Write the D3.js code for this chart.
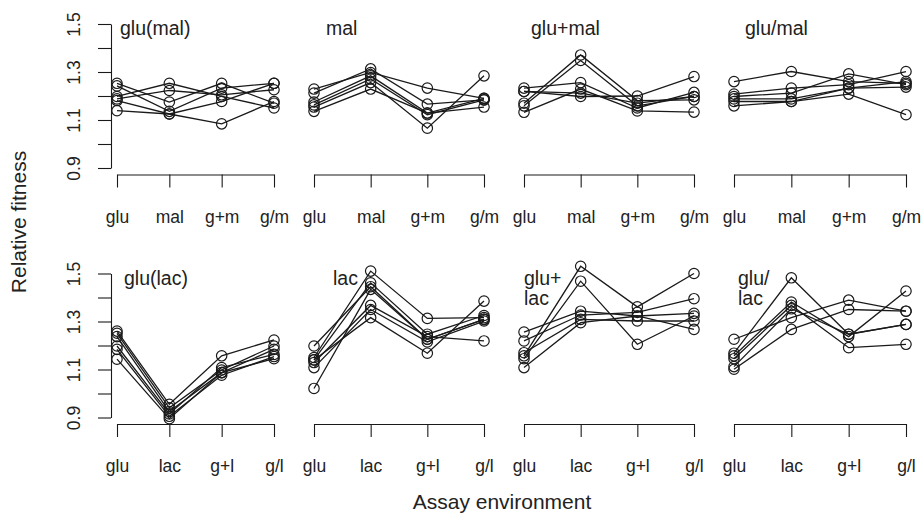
<!DOCTYPE html>
<html>
<head>
<meta charset="utf-8">
<script src="https://cdn.jsdelivr.net/npm/d3@7.9.0/dist/d3.min.js"></script>
<style>
  body { margin: 0; background: #fff; }
  svg text { font-family: "Liberation Sans", Arial, Helvetica, sans-serif; fill: #222; }
</style>
</head>
<body>
<svg id="chart" width="922" height="514"></svg>
<script>
// assay environments
const malEnvs = ['glu', 'mal', 'g+m', 'g/m'];
const lacEnvs = ['glu', 'lac', 'g+l', 'g/l'];
const yTicks = [0.9, 1.0, 1.1, 1.2, 1.3, 1.4, 1.5];
const yLabelled = [0.9, 1.1, 1.3, 1.5];

// panel titles (second line for the two-line ones)
const titles = [['glu(mal)'], ['mal'], ['glu+mal'], ['glu/mal'],
                ['glu(lac)'], ['lac'], ['glu+', 'lac'], ['glu/', 'lac']];

// relative fitness of each replicate line, one row per line, in env order
const gluMalLines = [
  [1.253, 1.175, 1.253, 1.170],
  [1.242, 1.136, 1.233, 1.253],
  [1.198, 1.253, 1.198, 1.150],
  [1.188, 1.223, 1.205, 1.226],
  [1.181, 1.125, 1.177, 1.253],
  [1.139, 1.125, 1.084, 1.177]
];
const malLines = [
  [1.229, 1.298, 1.233, 1.190],
  [1.212, 1.313, 1.166, 1.184],
  [1.175, 1.284, 1.129, 1.190],
  [1.163, 1.271, 1.122, 1.184],
  [1.154, 1.256, 1.066, 1.284],
  [1.136, 1.229, 1.129, 1.154]
];
const gluPlusMalLines = [
  [1.233, 1.256, 1.150, 1.215],
  [1.219, 1.212, 1.170, 1.198],
  [1.170, 1.371, 1.181, 1.184],
  [1.159, 1.348, 1.159, 1.198],
  [1.132, 1.229, 1.138, 1.133],
  [1.219, 1.198, 1.200, 1.281]
];
const gluSlashMalLines = [
  [1.260, 1.302, 1.260, 1.253],
  [1.208, 1.233, 1.247, 1.302],
  [1.198, 1.212, 1.292, 1.247],
  [1.188, 1.188, 1.233, 1.237],
  [1.177, 1.177, 1.208, 1.122],
  [1.159, 1.177, 1.233, 1.260]
];
const gluLacLines = [
  [1.260, 0.955, 1.157, 1.223],
  [1.251, 0.940, 1.098, 1.198],
  [1.237, 0.925, 1.087, 1.184],
  [1.198, 0.915, 1.108, 1.163],
  [1.184, 0.905, 1.076, 1.154],
  [1.143, 0.895, 1.087, 1.145]
];
const lacLines = [
  [1.198, 1.445, 1.226, 1.309],
  [1.150, 1.510, 1.313, 1.316],
  [1.140, 1.461, 1.247, 1.325],
  [1.129, 1.367, 1.237, 1.219],
  [1.108, 1.350, 1.215, 1.302],
  [1.021, 1.434, 1.226, 1.309],
  [1.140, 1.316, 1.168, 1.385]
];
const gluPlusLacLines = [
  [1.157, 1.530, 1.361, 1.500],
  [1.145, 1.468, 1.205, 1.323],
  [1.256, 1.343, 1.323, 1.267],
  [1.219, 1.327, 1.338, 1.395],
  [1.170, 1.309, 1.302, 1.302],
  [1.108, 1.295, 1.323, 1.334]
];
const gluSlashLacLines = [
  [1.226, 1.316, 1.389, 1.343],
  [1.168, 1.482, 1.247, 1.288],
  [1.157, 1.381, 1.237, 1.427],
  [1.145, 1.367, 1.191, 1.205],
  [1.112, 1.353, 1.247, 1.288],
  [1.101, 1.267, 1.350, 1.343]
];

const panelData = [gluMalLines, malLines, gluPlusMalLines, gluSlashMalLines,
                   gluLacLines, lacLines, gluPlusLacLines, gluSlashLacLines];

// layout
const colFirst = [117, 314, 524, 734];
const colLast = [274, 484, 694, 906];
const rowTop = [24, 273.5];
const plotH = 144;
const titleDx = [3, 12, 7, 11, 7, 19, 0, 4];

const svg = d3.select('#chart');
const ink = '#1a1a1a';

panelData.forEach((lines, i) => {
    const row = Math.floor(i / 4), col = i % 4;
    const envs = row === 0 ? malEnvs : lacEnvs;
    const x = d3.scalePoint().domain(envs).range([colFirst[col], colLast[col]]);
    const y = d3.scaleLinear().domain([0.9, 1.5]).range([rowTop[row] + plotH, rowTop[row]]);
    const g = svg.append('g');

    // x axis sits just below the plot region
    const axisY = rowTop[row] + plotH + 6.5;
    const xAxis = g.append('g')
        .attr('transform', `translate(0,${axisY})`)
        .call(d3.axisBottom(x).tickSize(13).tickSizeOuter(0).tickPadding(23));
    xAxis.selectAll('path, line').attr('stroke', ink).attr('stroke-width', 1.1);
    xAxis.selectAll('text').style('font-size', '17.5px').attr('fill', ink);

    if (col === 0) {
        const yAxis = g.append('g')
            .attr('transform', `translate(${colFirst[col] - 6},0)`)
            .call(d3.axisLeft(y).tickValues(yTicks).tickSize(13).tickSizeOuter(0)
                .tickFormat(d => yLabelled.some(v => Math.abs(v - d) < 1e-9) ? d3.format('.1f')(d) : ''));
        yAxis.selectAll('path, line').attr('stroke', ink).attr('stroke-width', 1.1);
        yAxis.selectAll('text')
            .attr('x', null).attr('dy', '0.35em')
            .attr('text-anchor', 'middle')
            .attr('transform', 'translate(-37,0) rotate(-90)')
            .style('font-size', '17.5px').attr('fill', ink);
    }

    const line = d3.line().x((d, k) => x(envs[k])).y(d => y(d));
    g.selectAll('path.rep').data(lines).join('path')
        .attr('class', 'rep')
        .attr('d', line)
        .attr('fill', 'none').attr('stroke', ink).attr('stroke-width', 1.3);

    lines.forEach(vals => {
        g.selectAll(null).data(vals).join('circle')
            .attr('cx', (d, k) => x(envs[k]))
            .attr('cy', d => y(d))
            .attr('r', 5.2)
            .attr('fill', 'none').attr('stroke', ink).attr('stroke-width', 1.2);
    });

    titles[i].forEach((t, k) => {
        g.append('text')
            .attr('x', colFirst[col] + titleDx[i])
            .attr('y', rowTop[row] + 11 + k * 20)
            .style('font-size', '19.5px')
            .text(t);
    });
});

svg.append('text')
    .attr('x', 502).attr('y', 509)
    .attr('text-anchor', 'middle')
    .style('font-size', '21px')
    .text('Assay environment');

svg.append('text')
    .attr('transform', 'translate(19,222) rotate(-90)')
    .attr('text-anchor', 'middle')
    .attr('dy', '0.35em')
    .style('font-size', '21px')
    .text('Relative fitness');
</script>
</body>
</html>
